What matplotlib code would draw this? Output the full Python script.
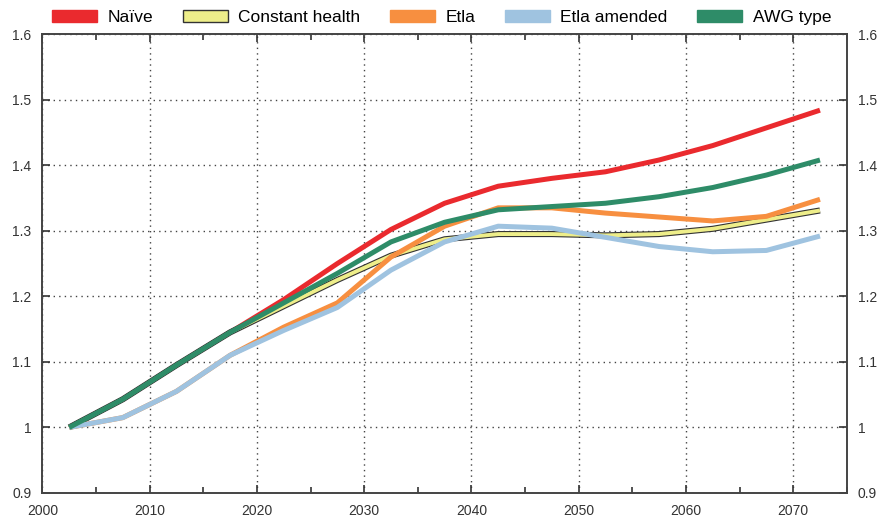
import matplotlib
matplotlib.use("Agg")
import matplotlib.pyplot as plt
import matplotlib.patheffects as pe
from matplotlib.patches import Patch
from matplotlib.ticker import MultipleLocator

years = [2002.5 + 5 * i for i in range(15)]
naive = [1.0, 1.043, 1.095, 1.145, 1.195, 1.25, 1.302, 1.342, 1.368, 1.38, 1.39, 1.408, 1.43, 1.457, 1.484]
constant_health = [1.0, 1.043, 1.095, 1.145, 1.185, 1.225, 1.262, 1.287, 1.295, 1.295, 1.293, 1.295, 1.303, 1.317, 1.331]
etla = [1.0, 1.015, 1.055, 1.11, 1.153, 1.19, 1.26, 1.307, 1.335, 1.335, 1.327, 1.321, 1.315, 1.322, 1.348]
etla_amended = [1.0, 1.015, 1.055, 1.11, 1.148, 1.183, 1.24, 1.283, 1.307, 1.304, 1.29, 1.276, 1.268, 1.27, 1.292]
awg = [1.0, 1.043, 1.095, 1.145, 1.19, 1.235, 1.283, 1.313, 1.332, 1.337, 1.342, 1.352, 1.366, 1.385, 1.408]

labels = ["Naïve", "Constant health", "Etla", "Etla amended", "AWG type"]
colors = ["#ea2a2e", "#eeee8a", "#f78f40", "#9fc3e0", "#2e8c68"]

plt.rcParams['font.family'] = ['Liberation Sans', 'DejaVu Sans']

fig = plt.figure(figsize=(8.83, 5.22), dpi=100)
ax = fig.add_axes([0.048, 0.0556, 0.911, 0.879])

lw = 3.6
ax.plot(years, naive, color=colors[0], lw=lw, zorder=3, solid_capstyle='butt')
ax.plot(years, constant_health, color=colors[1], lw=2.8, zorder=4, solid_capstyle='butt',
        path_effects=[pe.Stroke(linewidth=4.4, foreground='#333333'), pe.Normal()])
ax.plot(years, etla, color=colors[2], lw=lw, zorder=5, solid_capstyle='butt')
ax.plot(years, etla_amended, color=colors[3], lw=lw, zorder=6, solid_capstyle='butt')
ax.plot(years, awg, color=colors[4], lw=lw, zorder=7, solid_capstyle='butt')

ax.set_xlim(2000, 2075)
ax.set_ylim(0.9, 1.6)
ax.xaxis.set_major_locator(MultipleLocator(10))
ax.xaxis.set_minor_locator(MultipleLocator(5))
ax.set_yticks([0.9, 1.0, 1.1, 1.2, 1.3, 1.4, 1.5, 1.6])
ax.set_yticklabels(["0.9", "1", "1.1", "1.2", "1.3", "1.4", "1.5", "1.6"])

ax.grid(True, which='major', color='#444444', linestyle=(0, (1, 3)), linewidth=1.0)
ax.tick_params(axis='both', which='both', direction='in', top=True, right=True,
               labelright=True, labelsize=10, colors='#333333', width=1.2)
ax.tick_params(axis='both', which='major', length=6)
ax.tick_params(axis='both', which='minor', length=4)
ax.tick_params(axis='y', pad=8)
ax.tick_params(axis='x', pad=8)
for s in ax.spines.values():
    s.set_color('#444444')
    s.set_linewidth(1.4)

handles = []
for lab, c in zip(labels, colors):
    if lab == "Constant health":
        handles.append(Patch(facecolor=c, edgecolor='#333333', linewidth=1.0, label=lab))
    else:
        handles.append(Patch(facecolor=c, edgecolor=c, label=lab))
fig.legend(handles=handles, loc='center', bbox_to_anchor=(0.5, 0.966), ncol=5,
           frameon=False, fontsize=12.5, handlelength=2.6, handleheight=0.7,
           columnspacing=1.7, handletextpad=0.6)

fig.savefig("out.png", dpi=100)
